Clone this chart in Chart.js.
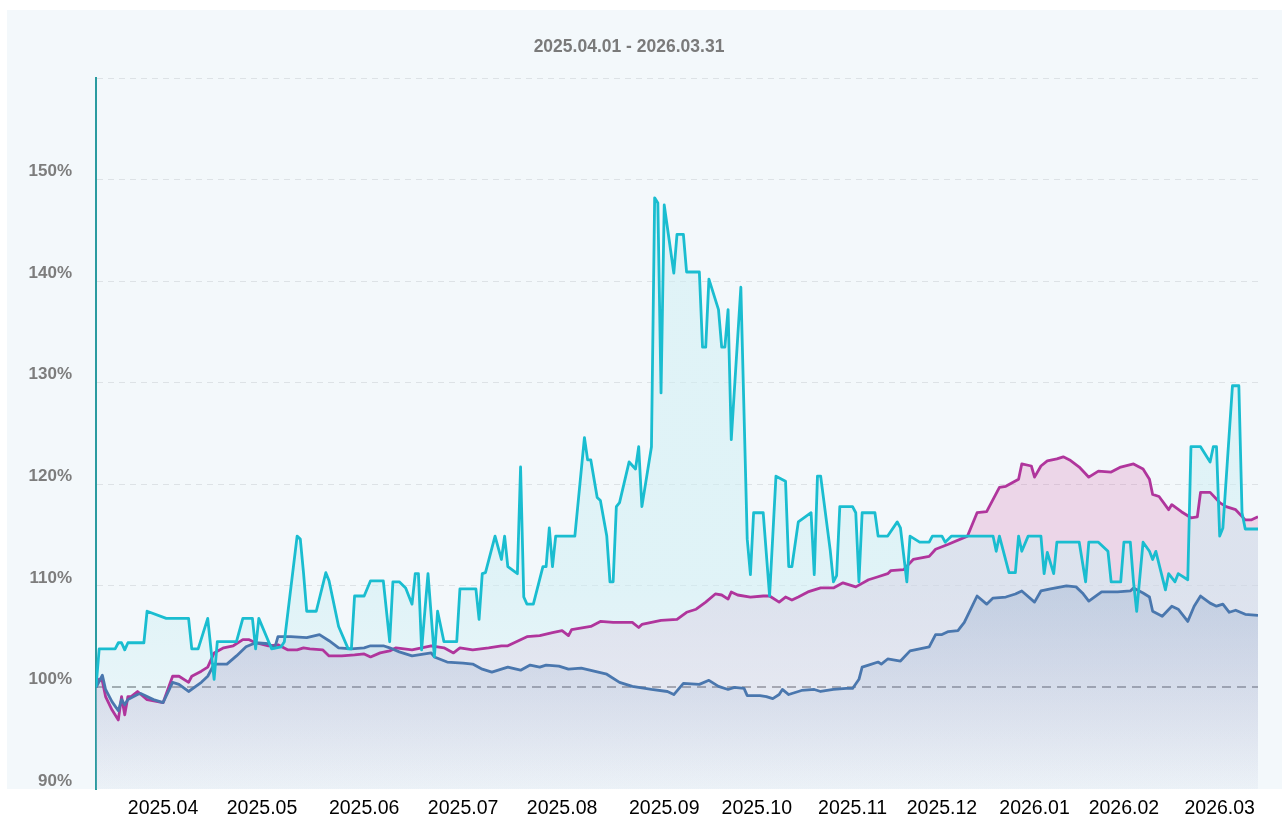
<!DOCTYPE html>
<html>
<head>
<meta charset="utf-8">
<script src="https://cdn.jsdelivr.net/npm/chart.js@4/dist/chart.umd.min.js"></script>
<style>
  html, body { margin: 0; padding: 0; background: #ffffff; }
  #wrap { width: 1282px; height: 818px; position: relative; }
</style>
</head>
<body>
<div id="wrap"><canvas id="chart"></canvas></div>
<script>
// day offset from 2025.04.01, value in %
const cyanPoints = [
  [0,100.0],[1,103.8],[6,103.8],[7,104.4],[8,104.4],[9,103.7],[10,104.4],[15,104.4],[16,107.5],[22,106.8],
  [29,106.8],[30,103.8],[32,103.8],[35,106.8],[37,100.8],[38,104.5],[44,104.5],[46,106.8],[49,106.8],[50,103.8],
  [51,106.8],[55,103.8],[58,104.0],[59,104.5],[63,114.9],[64,114.6],[65,111.3],[66,107.5],[69,107.5],[72,111.3],
  [73,110.5],[76,106.0],[79,103.8],[80,103.8],[81,109.0],[84,109.0],[86,110.5],[90,110.5],[92,104.5],[93,110.4],
  [95,110.4],[97,109.8],[99,108.2],[100,111.2],[101,111.2],[102,103.7],[104,111.2],[106,103.0],[107,107.5],[109,104.5],
  [113,104.5],[114,109.7],[119,109.7],[120,106.7],[121,111.2],[122,111.3],[125,114.9],[127,112.6],[128,114.9],[129,111.9],
  [132,111.2],[133,121.7],[134,108.9],[135,108.2],[137,108.2],[140,111.9],[141,111.9],[142,115.7],[143,111.9],[144,114.9],
  [150,114.9],[153,124.6],[154,122.4],[155,122.4],[157,118.7],[158,118.4],[160,114.9],[161,110.4],[162,110.4],[163,117.8],
  [164,118.2],[167,122.2],[169,121.5],[170,123.7],[171,117.8],[174,123.7],[175,148.2],[176,147.7],[177,129.0],[178,147.5],
  [181,140.8],[182,144.6],[184,144.6],[185,140.9],[189,140.9],[190,133.5],[191,133.5],[192,140.2],[195,137.2],[196,133.5],
  [197,133.5],[198,137.2],[199,124.4],[202,139.4],[204,114.6],[205,111.1],[206,117.2],[209,117.2],[211,109.0],[213,120.8],
  [216,120.3],[217,111.9],[218,111.9],[220,116.3],[224,117.2],[225,111.1],[226,120.8],[227,120.8],[230,113.5],[231,110.4],
  [232,111.0],[233,117.8],[237,117.8],[238,117.2],[239,110.4],[240,117.2],[244,117.2],[245,114.9],[248,114.9],[251,116.3],
  [252,115.7],[254,110.4],[255,114.9],[258,114.3],[261,114.3],[262,114.9],[265,114.9],[266,114.3],[268,114.9],[281,114.9],
  [282,113.4],[283,114.9],[286,111.3],[288,111.3],[289,114.9],[290,113.4],[292,114.9],[296,114.9],[297,111.2],[298,113.3],
  [300,111.2],[301,114.3],[308,114.3],[310,110.4],[311,114.3],[314,114.3],[317,113.4],[318,110.4],[321,110.4],[322,114.3],
  [324,114.3],[325,110.4],[326,107.5],[328,114.3],[330,113.4],[331,112.6],[332,113.4],[335,109.6],[336,111.2],[338,110.4],
  [339,111.2],[342,110.6],[343,123.7],[346,123.7],[349,122.2],[350,123.7],[351,123.7],[352,114.9],[353,115.7],[356,129.7],
  [358,129.7],[359,117.2],[360,115.6],[364,115.6]
];
const magentaPoints = [
  [0,100.0],[1,100.8],[2,100.6],[3,99.1],[5,97.8],[7,96.8],[8,99.1],[9,97.3],[10,99.1],[11,99.1],
  [13,99.6],[16,98.8],[21,98.5],[24,101.1],[26,101.1],[29,100.5],[30,101.1],[33,101.6],[35,102.0],[37,103.4],
  [40,103.9],[43,104.1],[46,104.7],[48,104.7],[50,104.4],[54,104.1],[57,104.2],[60,103.7],[63,103.7],[65,103.9],
  [67,103.8],[71,103.7],[73,103.1],[77,103.1],[81,103.2],[84,103.3],[86,103.0],[89,103.4],[92,103.6],[94,103.9],
  [99,103.7],[105,104.1],[109,103.9],[112,103.4],[114,103.9],[118,103.7],[123,103.9],[127,104.1],[129,104.1],[131,104.4],
  [135,105.0],[139,105.1],[143,105.4],[146,105.6],[148,105.1],[149,105.7],[155,106.0],[158,106.5],[162,106.4],[164,106.4],
  [168,106.4],[170,105.9],[171,106.2],[177,106.6],[182,106.7],[185,107.4],[188,107.7],[191,108.4],[194,109.2],[196,109.1],
  [198,108.7],[199,109.4],[201,109.1],[205,108.9],[209,109.0],[211,109.0],[214,108.4],[216,108.9],[218,108.6],[220,108.9],
  [223,109.4],[227,109.8],[231,109.8],[234,110.3],[238,109.9],[242,110.6],[245,110.9],[248,111.2],[249,111.5],[253,111.6],
  [256,112.6],[261,112.9],[263,113.6],[267,114.1],[273,114.9],[276,117.2],[279,117.3],[283,119.7],[285,119.8],[289,120.5],
  [290,122.0],[293,121.8],[294,120.7],[296,121.8],[298,122.3],[301,122.5],[303,122.7],[305,122.4],[308,121.7],[311,120.7],
  [314,121.3],[318,121.2],[321,121.7],[325,122.0],[328,121.5],[330,120.5],[331,119.0],[333,118.8],[336,117.5],[337,118.0],
  [340,117.3],[343,116.7],[345,116.8],[346,119.2],[349,119.2],[352,118.2],[354,117.8],[357,117.5],[360,116.5],[362,116.5],
  [364,116.8]
];
const bluePoints = [
  [0,100.0],[1,100.6],[2,101.2],[3,99.8],[5,98.6],[7,97.7],[8,98.8],[9,98.3],[10,98.8],[13,99.3],
  [14,99.4],[18,98.8],[21,98.5],[24,100.5],[26,100.3],[29,99.6],[33,100.5],[35,101.1],[37,102.3],[41,102.3],
  [44,103.1],[47,104.0],[50,104.4],[54,104.3],[56,103.9],[57,105.0],[61,105.0],[66,104.9],[70,105.2],[73,104.6],
  [76,103.9],[80,103.8],[84,103.9],[86,104.1],[90,104.1],[92,103.9],[95,103.5],[99,103.1],[105,103.4],[106,103.0],
  [110,102.5],[115,102.4],[118,102.3],[121,101.8],[124,101.5],[129,102.0],[133,101.7],[136,102.2],[139,102.0],[141,102.2],
  [145,102.1],[148,101.8],[152,101.9],[156,101.6],[160,101.3],[164,100.5],[168,100.1],[170,100.0],[174,99.8],[179,99.6],
  [181,99.3],[184,100.4],[189,100.3],[192,100.7],[195,100.1],[198,99.8],[200,100.0],[203,99.9],[204,99.2],[208,99.2],
  [210,99.1],[212,98.9],[214,99.3],[215,99.8],[217,99.3],[221,99.7],[225,99.8],[227,99.6],[231,99.8],[235,99.9],
  [237,99.9],[239,100.8],[240,102.0],[242,102.2],[245,102.5],[246,102.3],[248,102.8],[252,102.6],[255,103.6],[258,103.8],
  [261,104.0],[263,105.2],[265,105.2],[267,105.5],[270,105.6],[272,106.4],[276,109.0],[279,108.2],[281,108.8],[285,108.9],
  [288,109.2],[290,109.5],[294,108.4],[296,109.5],[299,109.7],[304,110.0],[307,109.9],[309,109.3],[311,108.5],[315,109.4],
  [320,109.4],[324,109.5],[325,109.8],[328,109.3],[330,108.9],[331,107.5],[334,107.0],[337,108.0],[339,107.7],[342,106.5],
  [344,108.0],[346,109.0],[349,108.3],[351,108.0],[353,108.2],[355,107.4],[357,107.6],[360,107.2],[364,107.1]
];
const tickDays = [21, 52, 84, 115, 146, 178, 207, 237, 265, 294, 322, 352];
const tickLabels = ['2025.04', '2025.05', '2025.06', '2025.07', '2025.08', '2025.09',
                    '2025.10', '2025.11', '2025.12', '2026.01', '2026.02', '2026.03'];
const titleText = '2025.04.01 - 2026.03.31';

Chart.defaults.font.family = '"Liberation Sans", Arial, sans-serif';

function toXY(points) {
  return points.map(p => ({ x: p[0], y: p[1] }));
}

// vertical fade of a fill colour
function fade(rgb, top, bottom) {
  return (c) => {
    const area = c.chart.chartArea;
    if (!area) return 'rgba(' + rgb + ',' + top + ')';
    const g = c.chart.ctx.createLinearGradient(0, area.top, 0, area.bottom);
    g.addColorStop(0, 'rgba(' + rgb + ',' + top + ')');
    g.addColorStop(0.72, 'rgba(' + rgb + ',' + top + ')');
    g.addColorStop(1, 'rgba(' + rgb + ',' + bottom + ')');
    return g;
  };
}

const panelBg = {
  id: 'panelBg',
  beforeDraw(chart) {
    const c = chart.ctx;
    c.save();
    c.fillStyle = '#f3f8fb';
    c.fillRect(7, 10, chart.width - 7, chart.chartArea.bottom - 10);
    c.restore();
  }
};

const lineBase = { pointRadius: 0, pointHoverRadius: 0, tension: 0, borderJoinStyle: 'round' };

new Chart(document.getElementById('chart'), {
  type: 'line',
  data: {
    datasets: [
      Object.assign({ label: 'magenta fill', data: toXY(magentaPoints), borderColor: 'transparent',
        backgroundColor: fade('208,78,156', 0.2, 0.02), fill: 'start', order: 6 }, lineBase),
      Object.assign({ label: 'cyan fill', data: toXY(cyanPoints), borderColor: 'transparent',
        backgroundColor: fade('206,238,243', 0.52, 0.1), fill: 'start', order: 5 }, lineBase),
      Object.assign({ label: 'blue fill', data: toXY(bluePoints), borderColor: 'transparent',
        backgroundColor: fade('70,112,170', 0.17, 0.02), fill: 'start', order: 4 }, lineBase),
      Object.assign({ label: 'magenta', data: toXY(magentaPoints), borderColor: '#b0359c',
        borderWidth: 2.8, fill: false, order: 3 }, lineBase),
      Object.assign({ label: 'blue', data: toXY(bluePoints), borderColor: '#4a77ae',
        borderWidth: 2.8, fill: false, order: 2 }, lineBase),
      Object.assign({ label: 'cyan', data: toXY(cyanPoints), borderColor: '#1abdd0',
        borderWidth: 2.8, fill: false, order: 1 }, lineBase)
    ]
  },
  options: {
    responsive: true,
    maintainAspectRatio: false,
    animation: false,
    layout: { padding: { left: 0, right: 24, top: 0, bottom: 0 } },
    plugins: {
      legend: { display: false },
      tooltip: { enabled: false },
      filler: { drawTime: 'beforeDatasetsDraw' },
      title: {
        display: true,
        text: titleText,
        color: '#7a7a7a',
        font: { size: 17.5, weight: 'bold' },
        padding: { top: 37, bottom: 20 }
      }
    },
    scales: {
      x: {
        type: 'linear',
        min: 0,
        max: 364,
        grid: { display: false },
        border: { display: false },
        afterBuildTicks: s => { s.ticks = tickDays.map(v => ({ value: v })); },
        afterFit: s => { s.height = 29; s.paddingLeft = 0; s.paddingRight = 0; },
        ticks: {
          autoSkip: false,
          maxRotation: 0,
          padding: 0,
          color: '#000000',
          font: { size: 19.5 },
          callback: (v, i) => tickLabels[i]
        }
      },
      y: {
        min: 90,
        max: 160,
        afterFit: s => { s.width = 96; s.paddingTop = 0; s.paddingBottom = 0; },
        ticks: {
          stepSize: 10,
          padding: 24,
          labelOffset: -8,
          color: '#7d7d7d',
          font: { size: 17, weight: 'bold' },
          callback: v => (v >= 160 ? '' : v + '%')
        },
        grid: {
          drawTicks: false,
          color: c => (c.tick && c.tick.value === 100) ? '#8c8f94'
                    : (c.tick && c.tick.value === 90) ? 'transparent' : '#dde2e6',
          lineWidth: c => (c.tick && c.tick.value === 100) ? 2 : 1
        },
        border: {
          color: '#2a9ba0',
          width: 2,
          dash: c => (c.tick && c.tick.value === 100) ? [9, 6] : [6, 5]
        }
      }
    }
  },
  plugins: [panelBg]
});
</script>
</body>
</html>
